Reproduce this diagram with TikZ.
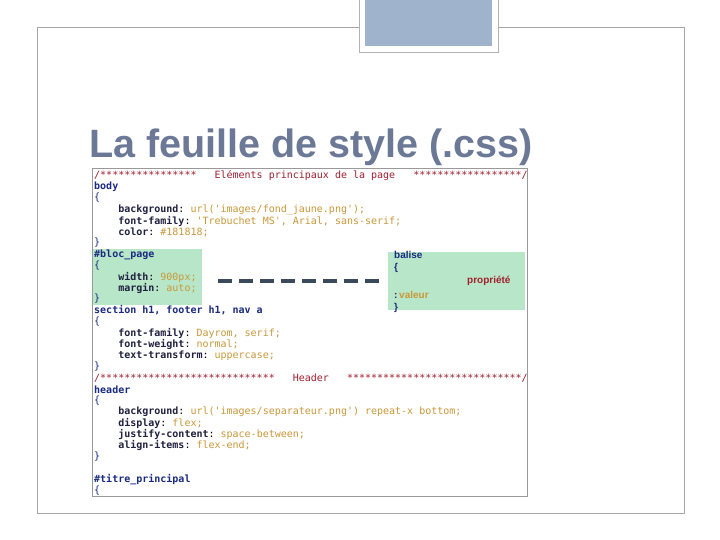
\documentclass[tikz,border=0pt]{standalone}
\usepackage{fontspec}
\setmainfont{Liberation Sans}
\setmonofont{DejaVu Sans Mono}
\begin{document}
\begin{tikzpicture}[x=1pt,y=-1pt,
  code/.style={anchor=west,inner sep=0pt,font=\ttfamily\fontsize{10}{11}\selectfont},
  cmt/.style={text=cmtc},sel/.style={text=selc},
]
\definecolor{cmtc}{HTML}{A02030}
\definecolor{selc}{HTML}{1A2A80}
\definecolor{propc}{HTML}{202040}
\definecolor{valc}{HTML}{C8983A}
\definecolor{boxg}{HTML}{B8E6C8}
\definecolor{titc}{HTML}{6B7896}
\definecolor{tabc}{HTML}{9FB4CC}
\definecolor{dashc}{HTML}{3A4A5A}
\newcommand{\pp}[1]{\textcolor{propc}{\bfseries #1}}
\newcommand{\vv}[1]{\textcolor{valc}{#1}}
\useasboundingbox (0,0) rectangle (720,540);
\fill[white] (0,0) rectangle (720,540);
\draw[gray!70, line width=0.8] (37,27) rectangle (684,513);
\fill[white] (359,0) rectangle (498,52);
\draw[gray!60, line width=0.8] (359,-1) rectangle (498,52);
\fill[tabc] (365,0) rectangle (492,46);
\node[anchor=base west,inner sep=0pt,text=titc,font=\bfseries\fontsize{39.5}{42}\selectfont] (title) at (89,158) {La feuille de style (.css)};
\fill[white] (92,168) rectangle (527,496);
\fill[boxg] (92,249) rectangle (202,305);
\fill[boxg] (388,252) rectangle (525,310);
\draw[gray!80, line width=0.8] (92,168) rectangle (527,496);
\node[code,cmt] (l1) at (94,176) {/****************\ \ \ Eléments principaux de la page\ \ \ ******************/};
\node[code,sel] (l2) at (94,187) {\bfseries body};
\node[code,sel] (l3) at (94,198) {\{};
\node[code] (l4) at (94,209.5) {\ \ \ \ \pp{background}: \vv{url('images/fond\_jaune.png');}};
\node[code] (l5) at (94,221) {\ \ \ \ \pp{font-family}: \vv{'Trebuchet MS', Arial, sans-serif;}};
\node[code] (l6) at (94,232) {\ \ \ \ \pp{color}: \vv{\#181818;}};
\node[code,sel] (l7) at (94,243) {\}};
\node[code,sel] (l8) at (94,254.5) {\bfseries \#bloc\_page};
\node[code,sel] (l9) at (94,266) {\{};
\node[code] (l10) at (94,277) {\ \ \ \ \pp{width}: \vv{900px;}};
\node[code] (l11) at (94,288) {\ \ \ \ \pp{margin}: \vv{auto;}};
\node[code,sel] (l12) at (94,299) {\}};
\node[code,sel] (l13) at (94,310.5) {\bfseries section h1, footer h1, nav a};
\node[code,sel] (l14) at (94,322) {\{};
\node[code] (l15) at (94,333) {\ \ \ \ \pp{font-family}: \vv{Dayrom, serif;}};
\node[code] (l16) at (94,344.5) {\ \ \ \ \pp{font-weight}: \vv{normal;}};
\node[code] (l17) at (94,355.5) {\ \ \ \ \pp{text-transform}: \vv{uppercase;}};
\node[code,sel] (l18) at (94,367) {\}};
\node[code,cmt] (l19) at (94,378) {/*****************************\ \ \ Header\ \ \ *****************************/};
\node[code,sel] (l20) at (94,389.5) {\bfseries header};
\node[code,sel] (l21) at (94,400.5) {\{};
\node[code] (l22) at (94,412) {\ \ \ \ \pp{background}: \vv{url('images/separateur.png') repeat-x bottom;}};
\node[code] (l23) at (94,423) {\ \ \ \ \pp{display}: \vv{flex;}};
\node[code] (l24) at (94,434.5) {\ \ \ \ \pp{justify-content}: \vv{space-between;}};
\node[code] (l25) at (94,445.5) {\ \ \ \ \pp{align-items}: \vv{flex-end;}};
\node[code,sel] (l26) at (94,457) {\}};
\node[code,sel] (l27) at (94,479.5) {\bfseries \#titre\_principal};
\node[code,sel] (l28) at (94,491) {\{};
\begin{scope}[every node/.style={anchor=west,inner sep=0pt,font=\bfseries\fontsize{10}{11}\selectfont}]
\node[text=selc] (b1) at (394,255) {balise};
\node[text=selc] (b2) at (394,268) {\{};
\node[text=cmtc] (b3) at (467,281) {propriété};
\node[text=selc] (b4) at (394,295) {:\,\textcolor{valc}{valeur}};
\node[text=selc] (b5) at (394,308) {\}};
\end{scope}
\coordinate (d1) at (218,281);
\coordinate (d2) at (386,281);
\draw[line width=3.5, color=dashc, dash pattern=on 14pt off 7pt] (d1) -- (d2);
\end{tikzpicture}
\end{document}
